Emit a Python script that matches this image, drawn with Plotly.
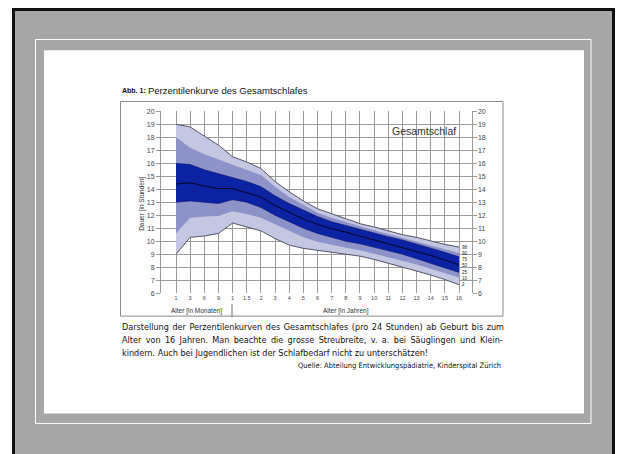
import plotly.graph_objects as go

# ---------------- data ----------------
age_labels = ["1", "3", "6", "9", "1", "1.5", "2", "3", "4", "5", "6", "7", "8",
              "9", "10", "11", "12", "13", "14", "15", "16"]
p98 = [19.0, 18.8, 18.1, 17.4, 16.5, 16.1, 15.6, 14.6, 13.8, 13.1, 12.5, 12.1, 11.7,
       11.35, 11.1, 10.8, 10.5, 10.3, 10.0, 9.75, 9.55]
p90 = [18.0, 17.2, 16.7, 16.3, 15.9, 15.5, 15.1, 14.2, 13.4, 12.8, 12.2, 11.8, 11.45,
       11.15, 10.85, 10.55, 10.3, 10.0, 9.7, 9.4, 9.1]
p75 = [16.0, 15.9, 15.5, 15.2, 14.9, 14.6, 14.2, 13.5, 12.9, 12.4, 11.9, 11.5, 11.2,
       10.9, 10.6, 10.35, 10.1, 9.8, 9.5, 9.15, 8.8]
p50 = [14.4, 14.5, 14.25, 14.05, 14.05, 13.75, 13.4, 12.75, 12.2, 11.7, 11.3, 10.95, 10.7,
       10.4, 10.1, 9.85, 9.55, 9.25, 8.9, 8.55, 8.2]
p25 = [13.0, 13.1, 13.0, 12.9, 13.2, 13.0, 12.6, 12.0, 11.5, 11.0, 10.6, 10.3, 10.0,
       9.8, 9.55, 9.25, 9.0, 8.65, 8.3, 7.95, 7.6]
p10 = [10.6, 11.8, 11.9, 11.95, 12.3, 12.1, 11.8, 11.3, 10.8, 10.3, 9.95, 9.7, 9.5,
       9.3, 9.05, 8.8, 8.5, 8.2, 7.85, 7.5, 7.2]
p2 = [9.0, 10.3, 10.4, 10.6, 11.4, 11.1, 10.8, 10.2, 9.7, 9.45, 9.3, 9.2, 9.05,
      8.85, 8.6, 8.3, 8.05, 7.75, 7.4, 7.05, 6.65]
percentile_names = ["98", "90", "75", "50", "25", "10", "2"]
hour_ticks = list(range(6, 21))

caption_lines = [
    "Darstellung der Perzentilenkurven des Gesamtschlafes (pro 24 Stunden) ab Geburt bis zum",
    "Alter von 16 Jahren. Man beachte die grosse Streubreite, v. a. bei Säuglingen und Klein-",
    "kindern. Auch bei Jugendlichen ist der Schlafbedarf nicht zu unterschätzen!",
]
source_text = "Quelle: Abteilung Entwicklungspädiatrie, Kinderspital Zürich"

# ---------------- layout helpers ----------------
W, H = 617, 454
def px(v):
    return v / W
def py(v):
    return 1 - v / H

LIGHT = "#c4c7e2"
MED = "#8d92c8"
DARK = "#0b22a3"
CHART_FONT = "Liberation Sans, Arial, sans-serif"
CAPTION_FONT = "Liberation Sans Narrow, DejaVu Sans Condensed, Arial Narrow, Liberation Sans, sans-serif"

x = list(range(len(age_labels)))

fig = go.Figure()
common = dict(showlegend=False, hoverinfo="skip")
nofill_line = dict(color="rgba(0,0,0,0)", width=0)
fig.add_trace(go.Scatter(x=x, y=p2, mode="lines", line=nofill_line, **common))
fig.add_trace(go.Scatter(x=x, y=p98, mode="lines", line=nofill_line, fill="tonexty",
                         fillcolor=LIGHT, **common))
fig.add_trace(go.Scatter(x=x, y=p10, mode="lines", line=nofill_line, **common))
fig.add_trace(go.Scatter(x=x, y=p90, mode="lines", line=nofill_line, fill="tonexty",
                         fillcolor=MED, **common))
fig.add_trace(go.Scatter(x=x, y=p25, mode="lines", line=nofill_line, **common))
fig.add_trace(go.Scatter(x=x, y=p75, mode="lines", line=nofill_line, fill="tonexty",
                         fillcolor=DARK, **common))
for s, c, w in [(p98, "#55556a", 1), (p2, "#55556a", 1), (p25, "#0a1870", 0.6),
                (p75, "#0a1870", 0.6), (p50, "#050520", 1)]:
    fig.add_trace(go.Scatter(x=x, y=s, mode="lines", line=dict(color=c, width=w), **common))
# invisible trace for right axis
fig.add_trace(go.Scatter(x=[x[0]], y=[hour_ticks[0]], yaxis="y2", mode="markers",
                         marker=dict(opacity=0), **common))

# percentile labels at the right end, spread evenly between the outer curves
top_end, bot_end = p98[-1], p2[-1]
n = len(percentile_names)
for i, name in enumerate(percentile_names):
    yl = top_end - i * (top_end - bot_end) / (n - 1)
    fig.add_annotation(x=x[-1], y=yl, text=name, showarrow=False, xanchor="left",
                       xshift=1, font=dict(size=4.5, color="#222", family=CHART_FONT))

shapes = [
    dict(type="rect", xref="paper", yref="paper", x0=px(12), x1=px(615), y0=py(470), y1=py(4),
         fillcolor="#111111", line=dict(width=0), layer="below"),
    dict(type="rect", xref="paper", yref="paper", x0=px(15), x1=px(612), y0=py(470), y1=py(7),
         fillcolor="#a6a6a6", line=dict(width=0), layer="below"),
    dict(type="rect", xref="paper", yref="paper", x0=px(35.5), x1=px(591), y0=py(426), y1=py(36),
         line=dict(color="white", width=1), layer="below"),
    dict(type="rect", xref="paper", yref="paper", x0=px(44), x1=px(584), y0=py(416), y1=py(47),
         fillcolor="white", line=dict(width=0), layer="below"),
    dict(type="rect", xref="paper", yref="paper", x0=px(120.5), x1=px(503), y0=py(317), y1=py(99),
         line=dict(color="#8a8a8a", width=1), layer="below"),
    dict(type="line", xref="paper", yref="paper", x0=px(232), x1=px(232), y0=py(318), y1=py(305),
         line=dict(color="#666", width=1)),
]

word_spacing = ["1.0px", "1.8px", "0px"]
cap_y = [328, 341, 354]
annotations = [
    dict(text="<b>Abb. 1:</b>", x=px(120), y=py(88), xanchor="left", yanchor="middle",
         font=dict(size=7, color="#111", family=CHART_FONT)),
    dict(text="Perzentilenkurve des Gesamtschlafes", x=px(146), y=py(88), xanchor="left",
         yanchor="middle", font=dict(size=9.5, color="#111", family=CHART_FONT)),
    dict(text="Gesamtschlaf", x=px(458), y=py(129), xanchor="right", yanchor="middle",
         font=dict(size=10.5, color="#333", family=CHART_FONT)),
    dict(text="Dauer [in Stunden]", x=px(142), y=py(203), textangle=-90, xanchor="center",
         yanchor="middle", font=dict(size=6.5, color="#333", family=CHART_FONT)),
    dict(text="Alter [in Monaten]", x=px(196), y=py(312), xanchor="center", yanchor="middle",
         font=dict(size=6.5, color="#333", family=CHART_FONT)),
    dict(text="Alter [in Jahren]", x=px(346), y=py(312), xanchor="center", yanchor="middle",
         font=dict(size=6.5, color="#333", family=CHART_FONT)),
    dict(text=source_text, x=px(503), y=py(367), xanchor="right", yanchor="middle",
         font=dict(size=7.5, color="#111", family=CAPTION_FONT)),
]
for line, ws, yy in zip(caption_lines, word_spacing, cap_y):
    annotations.append(dict(text=f'<span style="word-spacing:{ws}">{line}</span>',
                            x=px(120), y=py(yy), xanchor="left", yanchor="middle",
                            font=dict(size=9, color="#111", family=CAPTION_FONT)))
for a in annotations:
    a.update(xref="paper", yref="paper", showarrow=False)
    fig.add_annotation(**a)

axis_font = dict(size=7, color="#444", family=CHART_FONT)
fig.update_layout(
    width=W, height=H,
    margin=dict(l=0, r=0, t=0, b=0),
    paper_bgcolor="white",
    plot_bgcolor="rgba(0,0,0,0)",
    shapes=shapes,
    xaxis=dict(domain=[px(161), px(471.5)], range=[-1.06, 20.88], tickmode="array",
               tickvals=x, ticktext=age_labels, showgrid=True, gridcolor="#9a9a9a",
               gridwidth=1, zeroline=False, showline=False, ticks="",
               tickfont=dict(size=5.5, color="#444", family=CHART_FONT), fixedrange=True),
    yaxis=dict(domain=[py(293.7), py(109)], range=[6, 20], tickmode="array",
               tickvals=hour_ticks, showgrid=True, gridcolor="#9a9a9a", gridwidth=1,
               zeroline=False, showline=True, mirror=True, linecolor="#9a9a9a",
               ticks="outside", ticklen=4, tickcolor="#9a9a9a", tickfont=axis_font),
    yaxis2=dict(overlaying="y", side="right", anchor="x", range=[6, 20], tickmode="array",
                tickvals=hour_ticks, showgrid=False, zeroline=False, ticks="outside",
                ticklen=4, tickcolor="#9a9a9a", tickfont=axis_font),
)

fig.write_html("out.html")
